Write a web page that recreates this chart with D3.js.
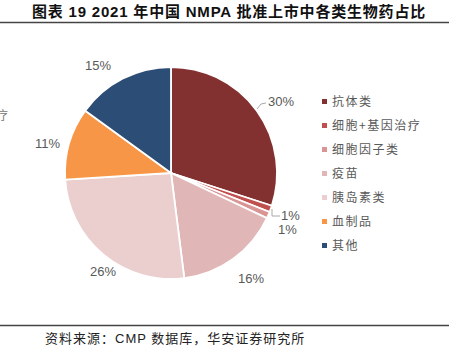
<!DOCTYPE html>
<html>
<head>
<meta charset="utf-8">
<script src="https://cdn.jsdelivr.net/npm/d3@7"></script>
<style>
body { margin: 0; background: #fff; }
</style>
</head>
<body>
<div id="chart"></div>
<script>
var categories = ["抗体类", "细胞+基因治疗", "细胞因子类", "疫苗", "胰岛素类", "血制品", "其他"];
var shares = [30, 1, 1, 16, 26, 11, 15];
var colors = ["#833030", "#C0504D", "#D99594", "#E0B7B6", "#EBCFCE", "#F79646", "#2C4D75"];
// label offsets for the percentage texts (outside the pie)
var labelPos = [[268, 106], [281, 220], [278, 234], [238, 283], [90, 276], [35, 148], [85, 70]];

var w = 449, h = 352;
var cx = 171, cy = 173, r = 106;

var svg = d3.select("#chart").append("svg")
    .attr("width", w)
    .attr("height", h);

// title
svg.append("text")
    .attr("x", 229)
    .attr("y", 17)
    .attr("text-anchor", "middle")
    .attr("font-family", "Liberation Sans, Noto Sans CJK SC, sans-serif")
    .attr("font-weight", "bold")
    .attr("font-size", 15)
    .attr("letter-spacing", 0.8)
    .attr("fill", "#111")
    .text("图表 19 2021 年中国 NMPA 批准上市中各类生物药占比");

svg.append("line")
    .attr("x1", 0).attr("x2", w)
    .attr("y1", 22.5).attr("y2", 22.5)
    .attr("stroke", "#444").attr("stroke-width", 1.5);

svg.append("line")
    .attr("x1", 0).attr("x2", w)
    .attr("y1", 325.5).attr("y2", 325.5)
    .attr("stroke", "#444").attr("stroke-width", 1.5);

svg.append("text")
    .attr("x", 45)
    .attr("y", 343)
    .attr("font-family", "Liberation Sans, Noto Sans CJK SC, sans-serif")
    .attr("font-size", 13)
    .attr("letter-spacing", 1)
    .attr("fill", "#222")
    .text("资料来源：CMP 数据库，华安证券研究所");

// clipped leftover of a legend on the left edge
svg.append("text")
    .attr("x", 8)
    .attr("y", 120)
    .attr("text-anchor", "end")
    .attr("font-family", "Noto Sans CJK SC, sans-serif")
    .attr("font-size", 12)
    .attr("fill", "#777")
    .text("治疗");

var pie = d3.pie().sort(null).value(function(d) { return d; });
var arcs = pie(shares);
var arc = d3.arc().innerRadius(0).outerRadius(r);

var g = svg.append("g").attr("transform", "translate(" + cx + "," + cy + ")");

g.selectAll(".slice")
    .data(arcs)
    .enter().append("path")
    .attr("class", "slice")
    .attr("d", arc)
    .attr("fill", function(d, i) { return colors[i]; })
    .attr("stroke", "#fff")
    .attr("stroke-width", 1.8);

svg.selectAll(".pct")
    .data(arcs)
    .enter().append("text")
    .attr("class", "pct")
    .attr("x", function(d, i) { return labelPos[i][0]; })
    .attr("y", function(d, i) { return labelPos[i][1]; })
    .attr("font-family", "Liberation Sans, Arial, sans-serif")
    .attr("font-size", 13)
    .attr("fill", "#595959")
    .text(function(d) { return d.data + "%"; });

// leader lines
var lead = d3.line();
svg.append("path")
    .attr("d", lead([[257, 109], [261, 104], [266, 103]]))
    .attr("fill", "none").attr("stroke", "#aaa").attr("stroke-width", 1);
svg.append("path")
    .attr("d", lead([[272, 209], [272, 216], [280, 216]]))
    .attr("fill", "none").attr("stroke", "#aaa").attr("stroke-width", 1);

// legend
var legend = svg.selectAll(".legend")
    .data(categories)
    .enter().append("g")
    .attr("class", "legend")
    .attr("transform", function(d, i) { return "translate(322," + (102 + i * 24) + ")"; });

legend.append("rect")
    .attr("x", 0).attr("y", -3)
    .attr("width", 5).attr("height", 5)
    .attr("fill", function(d, i) { return colors[i]; });

legend.append("text")
    .attr("x", 10)
    .attr("y", 4)
    .attr("font-family", "Noto Sans CJK SC, sans-serif")
    .attr("font-size", 12)
    .attr("letter-spacing", 1.5)
    .attr("fill", "#595959")
    .text(function(d) { return d; });
</script>
</body>
</html>
